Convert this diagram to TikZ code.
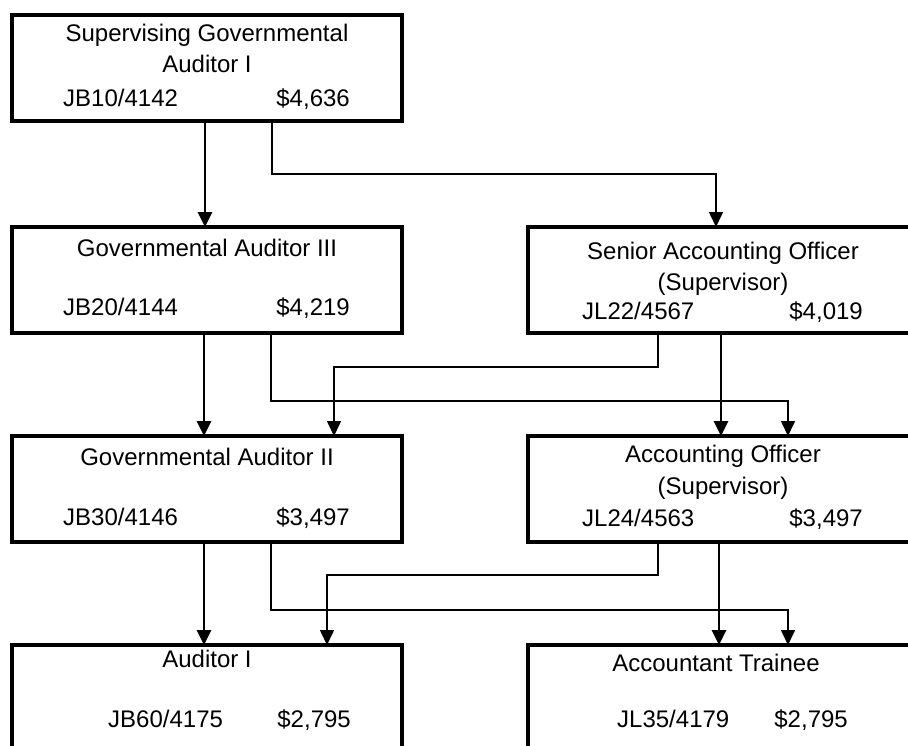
\documentclass[tikz,border=0pt]{standalone}
\usepackage{fontspec}
\setmainfont{Liberation Sans}
\usetikzlibrary{arrows.meta}

\tikzset{
  post/.style={draw=black, line width=3.8pt, minimum width=390pt, minimum height=106pt,
               inner sep=0pt, outer sep=0pt},
  label/.style={inner sep=0pt, anchor=base, font=\fontsize{24}{29}\selectfont},
  lab-left/.style={label, anchor=base west},
  lab-right/.style={label, anchor=base east},
  direct/.style={line width=2.8pt, -{Triangle[length=15pt,width=14pt]}},
  routed/.style={line width=1.6pt, -{Triangle[length=15pt,width=14pt]}},
}

\begin{document}
\begin{tikzpicture}[x=1pt, y=-1pt]
\useasboundingbox (0,0) rectangle (908,745);
\clip (0,0) rectangle (908,745);

% position boxes
\node[post] (sga) at (207,68)  {};
\node[post] (ga3) at (207,280) {};
\node[post] (sao) at (723,280) {};
\node[post] (ga2) at (207,489) {};
\node[post] (ao)  at (723,489) {};
\node[post] (a1)  at (207,698) {};
\node[post] (at)  at (723,698) {};

% titles, grades and salaries
\node[label] (sga-t1) at (207,41) {Supervising Governmental};
\node[label] (sga-t2) at (207,72) {Auditor I};
\node[lab-left]  (sga-c) at (63,106)  {JB10/4142};
\node[lab-right] (sga-p) at (350,106) {\$4,636};

\node[label] (ga3-t) at (207,256) {Governmental Auditor III};
\node[lab-left]  (ga3-c) at (63,315)  {JB20/4144};
\node[lab-right] (ga3-p) at (350,315) {\$4,219};

\node[label] (sao-t1) at (723,259) {Senior Accounting Officer};
\node[label] (sao-t2) at (723,290) {(Supervisor)};
\node[lab-left]  (sao-c) at (582,319) {JL22/4567};
\node[lab-right] (sao-p) at (863,319) {\$4,019};

\node[label] (ga2-t) at (207,465) {Governmental Auditor II};
\node[lab-left]  (ga2-c) at (63,525)  {JB30/4146};
\node[lab-right] (ga2-p) at (350,525) {\$3,497};

\node[label] (ao-t1) at (723,462) {Accounting Officer};
\node[label] (ao-t2) at (723,494) {(Supervisor)};
\node[lab-left]  (ao-c) at (582,526) {JL24/4563};
\node[lab-right] (ao-p) at (863,526) {\$3,497};

\node[label] (a1-t) at (207,667) {Auditor I};
\node[lab-left]  (a1-c) at (108,727) {JB60/4175};
\node[lab-right] (a1-p) at (351,727) {\$2,795};

\node[label] (at-t) at (716,671) {Accountant Trainee};
\node[lab-left]  (at-c) at (617,727) {JL35/4179};
\node[lab-right] (at-p) at (848,727) {\$2,795};

% reporting lines, first tier
\draw[direct] (sga.south -| 205,0) -- (ga3.north -| 205,0);
\draw[routed] (sga.south -| 272,0) |- (716,174) -- (sao.north -| 716,0);

% second tier
\draw[direct] (ga3.south -| 204,0) -- (ga2.north -| 204,0);
\draw[routed] (ga3.south -| 271,0) |- (788,401) -- (ao.north -| 788,0);
\draw[routed] (sao.south -| 658,0) |- (334,367) -- (ga2.north -| 334,0);
\draw[direct] (sao.south -| 721,0) -- (ao.north -| 721,0);

% third tier
\draw[direct] (ga2.south -| 204,0) -- (a1.north -| 204,0);
\draw[routed] (ga2.south -| 271,0) |- (788,610) -- (at.north -| 788,0);
\draw[routed] (ao.south -| 658,0) |- (327,575) -- (a1.north -| 327,0);
\draw[direct] (ao.south -| 719,0) -- (at.north -| 719,0);
\end{tikzpicture}
\end{document}
